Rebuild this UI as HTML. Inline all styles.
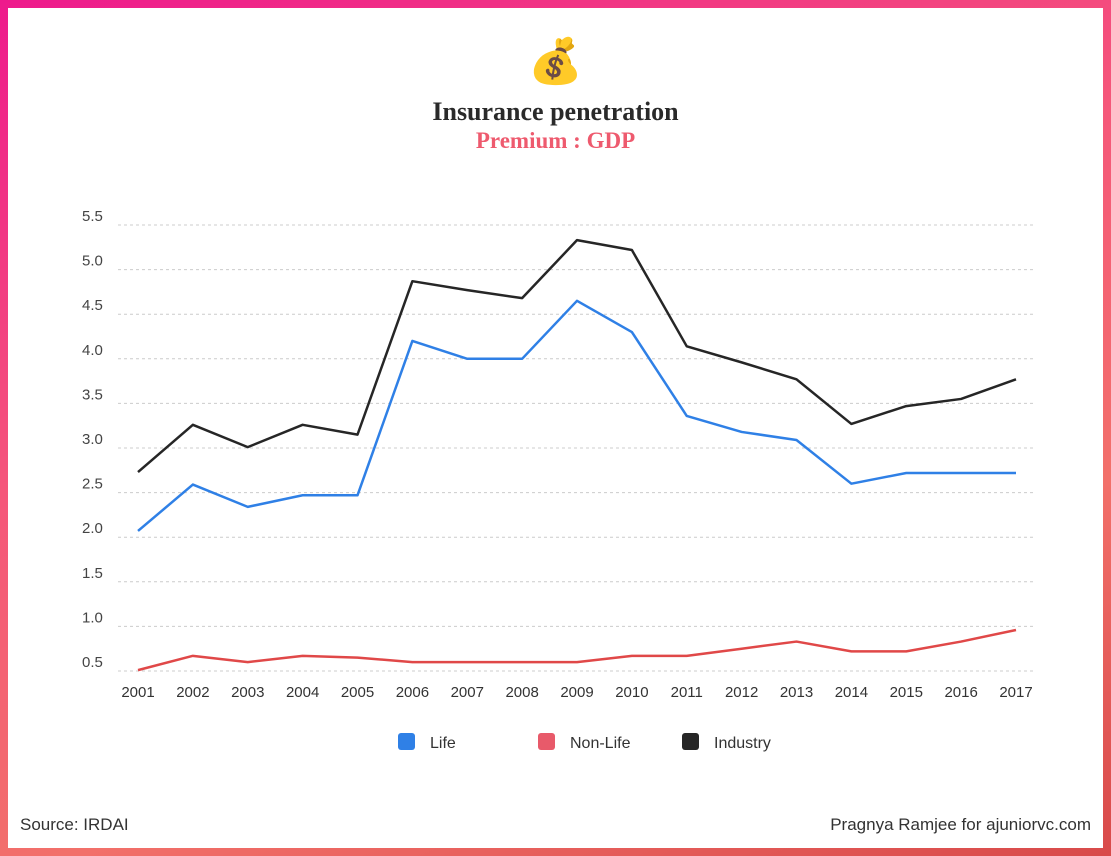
<!DOCTYPE html>
<html><head><meta charset="utf-8"><style>
html,body{margin:0;padding:0}
body{width:1111px;height:856px;position:relative;overflow:hidden;background:linear-gradient(160deg,#ee1a8c 0%,#f5577a 40%,#f2706a 70%,#d84a4a 100%);font-family:"Liberation Sans",sans-serif}
#card{position:absolute;left:8px;top:8px;width:1095px;height:840px;background:#fff}
.t{position:absolute;left:0;width:1111px;text-align:center}
</style></head><body>
<div id="card"></div>
<div class="t" style="top:35px;font-size:44px">💰</div>
<div class="t" style="top:97px;font-family:'Liberation Serif',serif;font-weight:bold;font-size:26px;color:#2a2a2a">Insurance penetration</div>
<div class="t" style="top:128px;font-family:'Liberation Serif',serif;font-weight:bold;font-size:23px;color:#ee5a6e">Premium : GDP</div>
<svg id="chart" width="1111" height="856" style="position:absolute;left:0;top:0"></svg>
<div style="position:absolute;left:20px;top:815px;font-size:17px;color:#333">Source: IRDAI</div>
<div style="position:absolute;right:20px;top:815px;font-size:17px;color:#333">Pragnya Ramjee for ajuniorvc.com</div>
<script>
const years=[2001,2002,2003,2004,2005,2006,2007,2008,2009,2010,2011,2012,2013,2014,2015,2016,2017];
const lifeVals=[2.07,2.59,2.34,2.47,2.47,4.2,4.0,4.0,4.65,4.3,3.36,3.18,3.09,2.6,2.72,2.72,2.72];
const nonLifeVals=[0.51,0.67,0.6,0.67,0.65,0.6,0.6,0.6,0.6,0.67,0.67,0.75,0.83,0.72,0.72,0.83,0.96];
const industryVals=[2.73,3.26,3.01,3.26,3.15,4.87,4.77,4.68,5.33,5.22,4.14,3.96,3.77,3.27,3.47,3.55,3.77];
const yTicks=[0.5,1.0,1.5,2.0,2.5,3.0,3.5,4.0,4.5,5.0,5.5];
const NS="http://www.w3.org/2000/svg";
const svg=document.getElementById('chart');
const x=i=>138+i*(1016-138)/16;
const y=v=>671-(v-0.5)*(671-225)/5;
function mk(t,a){const e=document.createElementNS(NS,t);for(const k in a)e.setAttribute(k,a[k]);svg.appendChild(e);return e;}
yTicks.forEach(v=>{
 const g=mk('line',{x1:118,x2:1035,y1:y(v),y2:y(v),stroke:'#ccc','stroke-dasharray':'3,3'});
 
 
 const t=mk('text',{x:82,y:y(v)-4,'font-size':15,fill:'#444','font-family':'Liberation Sans'});
 t.textContent=v.toFixed(1);
 
 
});
years.forEach((yr,i)=>{
 const t=mk('text',{x:x(i),y:697,'font-size':15,fill:'#333','text-anchor':'middle','font-family':'Liberation Sans'});
 t.textContent=yr;
 
 
});
[[lifeVals,'#2f80e6','life-line'],[nonLifeVals,'#e04848','non-life-line'],[industryVals,'#262626','industry-line']].forEach(([vals,c,n])=>{
 const p=mk('polyline',{points:vals.map((v,i)=>x(i)+','+y(v)).join(' '),fill:'none',stroke:c,'stroke-width':2.5,'stroke-linejoin':'round'});
 
 
});
[['Life','#2f80e6',398],['Non-Life','#e85a6a',538],['Industry','#262626',682]].forEach(([l,c,lx])=>{
 const r=mk('rect',{x:lx,y:733,width:17,height:17,rx:3,fill:c});
 
 
 const t=mk('text',{x:lx+32,y:748,'font-size':16,fill:'#333','font-family':'Liberation Sans'});
 t.textContent=l;
 
 
});
</script>
</body></html>
